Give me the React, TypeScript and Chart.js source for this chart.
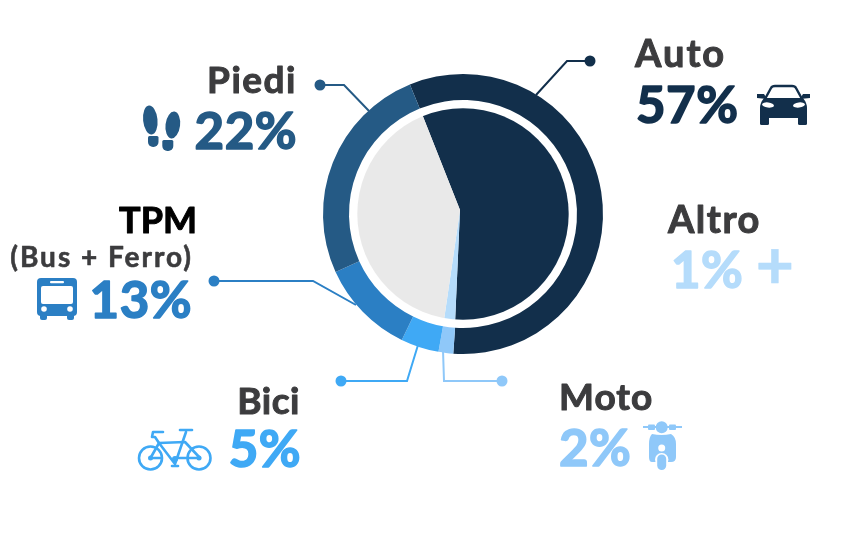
import React, { useEffect, useRef } from "react";
import { Chart, registerables } from "chart.js";

Chart.register(...registerables);

// Ring: arc shares, starting at Auto, clockwise
const ringCategories = ["Auto", "Moto", "Bici", "TPM", "Piedi"];
const ringValues = [57.3, 1.7, 4.4, 11, 25.6];
const ringColors = ["#122f4b", "#8fc8f9", "#3fa9f5", "#2b7fc4", "#255a85"];

// Inner pie: shares
const pieCategories = ["Auto", "Altro", "Resto"];
const pieValues = [56.7, 1.6, 41.7];
const pieColors = ["#122f4b", "#b5dcfb", "#e9e9e9"];

const GREY = "#3c3c3e";
const FONT = "Lato";

const names = [
  { t: "Auto", x: 635, y: 67, a: "left", c: GREY, s: 38, ls: 2, w: 1 },
  { t: "Altro", x: 668, y: 233, a: "left", c: GREY, s: 38, ls: 1.5, w: 1 },
  { t: "Moto", x: 559, y: 410, a: "left", c: GREY, s: 37, ls: 1, w: 1 },
  { t: "Bici", x: 300, y: 414, a: "right", c: GREY, s: 37, ls: 0.5, w: 1 },
  { t: "Piedi", x: 297, y: 93, a: "right", c: GREY, s: 37, ls: 1.5, w: 1 },
  { t: "TPM", x: 197, y: 233, a: "right", c: "#000000", s: 36, ls: 0, w: 1 },
  { t: "(Bus + Ferro)", x: 193, y: 267, a: "right", c: GREY, s: 28, ls: 2, w: 0.6 },
];
const shares = [
  { t: "57%", x: 636, y: 123, a: "left", c: "#122f4b", s: 51, ls: 0.5, w: 1.6 },
  { t: "1%", x: 671, y: 288, a: "left", c: "#b5dcfb", s: 51, ls: 0.5, w: 1.6 },
  { t: "+", x: 794, y: 289, a: "right", c: "#b5dcfb", s: 66, ls: 0, w: 0.6 },
  { t: "2%", x: 559, y: 466, a: "left", c: "#8fc8f9", s: 51, ls: 0.5, w: 1.6 },
  { t: "5%", x: 301, y: 467, a: "right", c: "#3fa9f5", s: 51, ls: 0.5, w: 1.6 },
  { t: "13%", x: 192, y: 318, a: "right", c: "#2b7fc4", s: 51, ls: 0.5, w: 1.6 },
  { t: "22%", x: 297, y: 149, a: "right", c: "#255a85", s: 51, ls: 0.5, w: 1.6 },
];
const leaders = [
  { c: "#122f4b", p: [[590, 61], [567, 61], [536, 95]] },
  { c: "#255a85", p: [[320, 85], [344, 85], [369, 111]] },
  { c: "#2b7fc4", p: [[214, 281], [313, 281], [356, 305]] },
  { c: "#3fa9f5", p: [[341, 381], [407, 381], [418, 345]] },
  { c: "#8fc8f9", p: [[502, 381], [444, 381], [443, 350]] },
];

function rr(ctx: any, x: number, y: number, w: number, h: number, r: any) {
  ctx.beginPath();
  ctx.roundRect(x, y, w, h, r);
  ctx.fill();
}
function oval(ctx: any, x: number, y: number, rx: number, ry: number, rot = 0) {
  ctx.beginPath();
  ctx.ellipse(x, y, rx, ry, rot, 0, Math.PI * 2);
  ctx.fill();
}
function seg(ctx: any, pts: number[][]) {
  ctx.beginPath();
  pts.forEach((p, i) => (i ? ctx.lineTo(p[0], p[1]) : ctx.moveTo(p[0], p[1])));
  ctx.stroke();
}

function drawCar(ctx: any) {
  const c = "#122f4b";
  ctx.fillStyle = c;
  ctx.strokeStyle = c;
  ctx.lineWidth = 2.4;
  ctx.beginPath();
  ctx.moveTo(765, 99);
  ctx.lineTo(771, 88);
  ctx.quadraticCurveTo(772, 86, 775, 86);
  ctx.lineTo(792, 86);
  ctx.quadraticCurveTo(795, 86, 796, 88);
  ctx.lineTo(802, 99);
  ctx.stroke();
  ctx.beginPath();
  ctx.moveTo(764, 98);
  ctx.lineTo(803, 98);
  ctx.quadraticCurveTo(807, 103, 807, 108);
  ctx.lineTo(807, 118);
  ctx.lineTo(760, 118);
  ctx.lineTo(760, 108);
  ctx.quadraticCurveTo(760, 103, 764, 98);
  ctx.fill();
  rr(ctx, 760, 116, 9, 9, 1.5);
  rr(ctx, 798, 116, 9, 9, 1.5);
  ctx.beginPath();
  ctx.moveTo(757, 94);
  ctx.lineTo(764, 94);
  ctx.lineTo(767, 99);
  ctx.lineTo(757, 98);
  ctx.fill();
  ctx.beginPath();
  ctx.moveTo(810, 94);
  ctx.lineTo(803, 94);
  ctx.lineTo(800, 99);
  ctx.lineTo(810, 98);
  ctx.fill();
  ctx.fillStyle = "#ffffff";
  oval(ctx, 768, 105, 6, 2.6, 0.12);
  oval(ctx, 799, 105, 6, 2.6, -0.12);
}
function drawBus(ctx: any) {
  const c = "#2b7fc4";
  ctx.fillStyle = c;
  rr(ctx, 37, 278, 40, 38, 4);
  rr(ctx, 40, 312, 7, 8, 2);
  rr(ctx, 67, 312, 7, 8, 2);
  ctx.fillStyle = "#ffffff";
  rr(ctx, 41, 286, 32, 18, 2);
  rr(ctx, 50, 281, 14, 2.2, 1);
  oval(ctx, 44, 309, 2.8, 2.8);
  oval(ctx, 70, 309, 2.8, 2.8);
}
function drawFeet(ctx: any) {
  ctx.fillStyle = "#255a85";
  oval(ctx, 150.3, 120, 7.2, 14.5, -0.1);
  rr(ctx, 148, 136, 10.5, 11, [1.5, 1.5, 5, 5]);
  oval(ctx, 172.8, 125, 7.3, 13.5, 0.12);
  rr(ctx, 162.3, 140, 11, 11, [1.5, 1.5, 5, 5]);
}
function drawBike(ctx: any) {
  const c = "#3fa9f5";
  ctx.strokeStyle = c;
  ctx.fillStyle = c;
  ctx.lineWidth = 2.6;
  ctx.lineCap = "round";
  ctx.lineJoin = "round";
  ctx.beginPath();
  ctx.arc(150.5, 458, 11.5, 0, Math.PI * 2);
  ctx.stroke();
  ctx.beginPath();
  ctx.arc(199, 458, 11.5, 0, Math.PI * 2);
  ctx.stroke();
  seg(ctx, [[163, 432], [153, 432], [152, 437], [155, 437], [159, 443], [150.5, 458]]);
  seg(ctx, [[159, 443], [185, 442], [200, 458], [175, 458]]);
  seg(ctx, [[159, 443], [175, 464], [186, 432]]);
  seg(ctx, [[180, 430], [192, 430]]);
  seg(ctx, [[172, 466], [178, 466]]);
  seg(ctx, [[150.5, 458], [160, 458]]);
  oval(ctx, 150.5, 458, 2.5, 2.5);
  oval(ctx, 199, 458, 2.5, 2.5);
  oval(ctx, 175, 459, 3, 3);
  ctx.lineCap = "butt";
}
function drawScooter(ctx: any) {
  const c = "#8fc8f9";
  ctx.fillStyle = c;
  ctx.strokeStyle = c;
  ctx.lineWidth = 2;
  seg(ctx, [[643, 427], [682, 427]]);
  rr(ctx, 648, 424.5, 7, 5.5, 1);
  rr(ctx, 669, 424.5, 7, 5.5, 1);
  oval(ctx, 661.7, 427.3, 6, 6);
  ctx.beginPath();
  ctx.moveTo(652, 434);
  ctx.quadraticCurveTo(661.7, 436, 671, 434);
  ctx.quadraticCurveTo(676, 437, 676, 444);
  ctx.lineTo(676, 457);
  ctx.quadraticCurveTo(676, 462, 671, 462);
  ctx.lineTo(652, 462);
  ctx.quadraticCurveTo(649, 462, 649, 457);
  ctx.lineTo(649, 444);
  ctx.quadraticCurveTo(649, 437, 652, 434);
  ctx.fill();
  ctx.fillStyle = "#ffffff";
  oval(ctx, 661.7, 448, 3.5, 3.5);
  rr(ctx, 655, 453, 13.4, 13, 6.5);
  ctx.fillStyle = c;
  rr(ctx, 657.2, 454.5, 9, 15.5, 4.5);
}

const overlayPlugin = {
  id: "overlay",
  beforeDatasetsDraw(chart: any) {
    const ctx = chart.ctx;
    ctx.save();
    leaders.forEach((l) => {
      ctx.strokeStyle = l.c;
      ctx.fillStyle = l.c;
      ctx.lineWidth = 2;
      seg(ctx, l.p);
      oval(ctx, l.p[0][0], l.p[0][1], 5.5, 5.5);
    });
    ctx.restore();
  },
  afterDraw(chart: any) {
    const ctx = chart.ctx;
    ctx.save();
    ctx.textBaseline = "alphabetic";
    ctx.lineJoin = "round";
    [...names, ...shares].forEach((d) => {
      ctx.font = `700 ${d.s}px ${FONT}`;
      ctx.letterSpacing = `${d.ls}px`;
      ctx.fillStyle = d.c;
      ctx.strokeStyle = d.c;
      ctx.lineWidth = d.w;
      ctx.textAlign = d.a;
      ctx.fillText(d.t, d.x, d.y);
      ctx.strokeText(d.t, d.x, d.y);
    });
    ctx.letterSpacing = "0px";
    drawCar(ctx);
    drawBus(ctx);
    drawFeet(ctx);
    drawBike(ctx);
    drawScooter(ctx);
    ctx.restore();
  },
};

const common = {
  responsive: false,
  animation: false as const,
  events: [] as any[],
  plugins: { legend: { display: false }, tooltip: { enabled: false } },
};

export default function App() {
  const ringRef = useRef<HTMLCanvasElement>(null);
  const pieRef = useRef<HTMLCanvasElement>(null);

  useEffect(() => {
    const ring = new Chart(ringRef.current!, {
      type: "doughnut",
      data: {
        labels: ringCategories,
        datasets: [{ data: ringValues, backgroundColor: ringColors, borderWidth: 0 }],
      },
      options: {
        ...common,
        cutout: 114,
        rotation: -22.3,
        layout: { padding: { left: 323, right: 250, top: 74, bottom: 186 } },
      } as any,
      plugins: [overlayPlugin],
    });
    const pie = new Chart(pieRef.current!, {
      type: "pie",
      data: {
        labels: pieCategories,
        datasets: [{ data: pieValues, backgroundColor: pieColors, borderWidth: 0 }],
      },
      options: {
        ...common,
        rotation: -21.6,
        layout: { padding: { left: 345, right: 278, top: 95, bottom: 215 } },
      } as any,
    });
    return () => {
      ring.destroy();
      pie.destroy();
    };
  }, []);

  const layer: React.CSSProperties = { position: "absolute", left: 0, top: 0, display: "block" };
  return (
    <div style={{ position: "absolute", left: 0, top: 0, width: 853, height: 540, background: "#ffffff", overflow: "hidden" }}>
      <canvas ref={ringRef} width={853} height={540} style={layer} />
      <canvas
        ref={pieRef}
        width={853}
        height={540}
        style={{ ...layer, clipPath: "circle(105.7px at 463px 214px)" }}
      />
    </div>
  );
}
